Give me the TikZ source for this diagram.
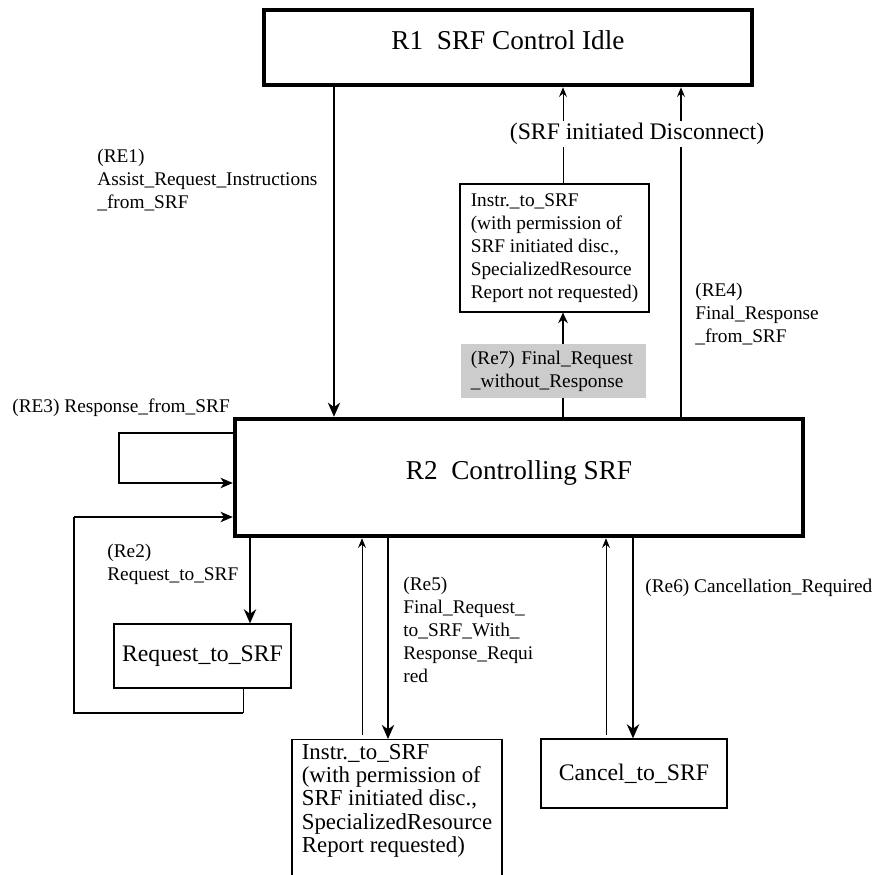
\documentclass[tikz,border=0pt]{standalone}
\usepackage{fontspec}
\setmainfont{Liberation Serif}
\usetikzlibrary{arrows.meta,positioning}
\tikzset{
  srfstate/.style={
    draw,
    line width = 2.6pt,
    inner sep = 0pt,
    text depth = 8pt,
    font = \fontsize{15.5}{17}\selectfont
  },
  msg/.style={
    draw,
    line width = 0.7pt,
    inner sep = 0pt,
    font = \fontsize{13.5}{13.3}\selectfont
  },
  lbl/.style={
    anchor = west,
    align = left,
    inner sep = 0pt,
    font = \fontsize{11}{13}\selectfont
  },
  fwd/.style={
    line width = 1pt,
    -{Stealth[length=8pt,width=7pt,inset=2.5pt]}
  },
  bwd/.style={
    line width = 0.5pt,
    -{Stealth[length=5.5pt,width=4.5pt,inset=2pt]}
  },
  loopar/.style={
    line width = 0.6pt,
    -{Stealth[length=7pt,width=6pt,inset=2pt]}
  },
}
\begin{document}
\begin{tikzpicture}[x=0.02cm,y=-0.02cm]
  \useasboundingbox (0,0) rectangle (877,875);
  \clip (0,0) rectangle (877,875);
  \node[srfstate, minimum width=9.76cm, minimum height=1.5cm] (R1) at (508,47.5) {R1\ \ SRF Control Idle};
  \node[srfstate, minimum width=11.36cm, minimum height=2.34cm] (R2) at (519,477.5) {R2\ \ Controlling SRF};
  \node[msg, align=left, minimum width=3.78cm, minimum height=2.56cm,
        font=\fontsize{11}{13}\selectfont] (instrA) at (554.5,248)
        {Instr.\_to\_SRF\\(with permission of\\SRF initiated disc.,\\SpecializedResource\\Report not requested)};
  \node[fill=gray!40, align=left, text width=94pt, inner xsep=5.5pt, minimum height=1.08cm,
        font=\fontsize{11}{13}\selectfont] (finreq) at (553.5,371)
        {(Re7) Final\_Request\\\_without\_Response};
  \node[font=\fontsize{13.5}{15}\selectfont, inner xsep=0pt, inner ysep=1pt] (disc) at (637,134) {(SRF initiated Disconnect)};
  \node[msg, minimum width=3.54cm, minimum height=1.28cm] (req) at (202.5,656) {Request\_to\_SRF};
  \node[msg, minimum width=3.72cm, minimum height=1.38cm] (cancel) at (634,773.5) {Cancel\_to\_SRF};
  \node[msg, align=left, minimum width=4.2cm, inner ysep=2.5pt, anchor=north,
        font=\fontsize{13}{13.3}\selectfont] (instrB) at (397,739)
        {Instr.\_to\_SRF\\(with permission of\\SRF initiated disc.,\\SpecializedResource\\Report requested)\\[30pt]\mbox{}};

  \node[lbl] (re1) at (97,180) {(RE1)\\Assist\_Request\_Instructions\\\_from\_SRF};
  \node[lbl] (re3) at (12,408) {(RE3) Response\_from\_SRF};
  \node[lbl] (re4) at (695,314) {(RE4)\\Final\_Response\\\_from\_SRF};
  \node[lbl] (re2) at (107,564) {(Re2)\\Request\_to\_SRF};
  \node[lbl] (re5) at (403,630) {(Re5)\\Final\_Request\_\\to\_SRF\_With\_\\Response\_Requi\\red};
  \node[lbl] (re6) at (645,588) {(Re6) Cancellation\_Required};

  \draw[fwd] (334,0 |- R1.south) -- (334,0 |- R2.north);
  \draw[line width=0.5pt] (563,0 |- instrA.north) -- (563,0 |- disc.south);
  \draw[bwd] (563,0 |- disc.north) -- (563,0 |- R1.south);
  \draw[line width=1pt] (681,0 |- R2.north) -- (681,0 |- disc.south);
  \draw[bwd, line width=1pt] (681,0 |- disc.north) -- (681,0 |- R1.south);
  \draw[line width=1pt] (563,0 |- R2.north) -- (563,0 |- finreq.south);
  \draw[line width=1pt, -{Stealth[length=6pt,width=5.5pt,inset=2pt]}] (563,0 |- finreq.north) -- (563,0 |- instrA.south);

  \coordinate (re3a) at (119,433);
  \coordinate (re3b) at (119,483);
  \draw[loopar] (R2.west |- re3a) -- (re3a) -- (re3b) -- (R2.west |- re3b);

  \draw[fwd] (250,0 |- R2.south) -- (250,0 |- req.north);
  \coordinate (re2a) at (243,713);
  \coordinate (re2b) at (74,713);
  \coordinate (re2c) at (74,517);
  \draw[line width=0.5pt] (re2a |- req.south) -- (re2a);
  \draw[line width=1.3pt] (re2a) -- (re2b) -- (re2c);
  \draw[loopar] (re2c) -- (R2.west |- re2c);

  \coordinate (re5up) at (362,735);
  \draw[bwd] (re5up) -- (re5up |- R2.south);
  \draw[fwd] (388,0 |- R2.south) -- (388,0 |- instrB.north);
  \coordinate (re6up) at (606,735);
  \draw[bwd] (re6up) -- (re6up |- R2.south);
  \draw[fwd] (633,0 |- R2.south) -- (633,0 |- cancel.north);
\end{tikzpicture}
\end{document}
